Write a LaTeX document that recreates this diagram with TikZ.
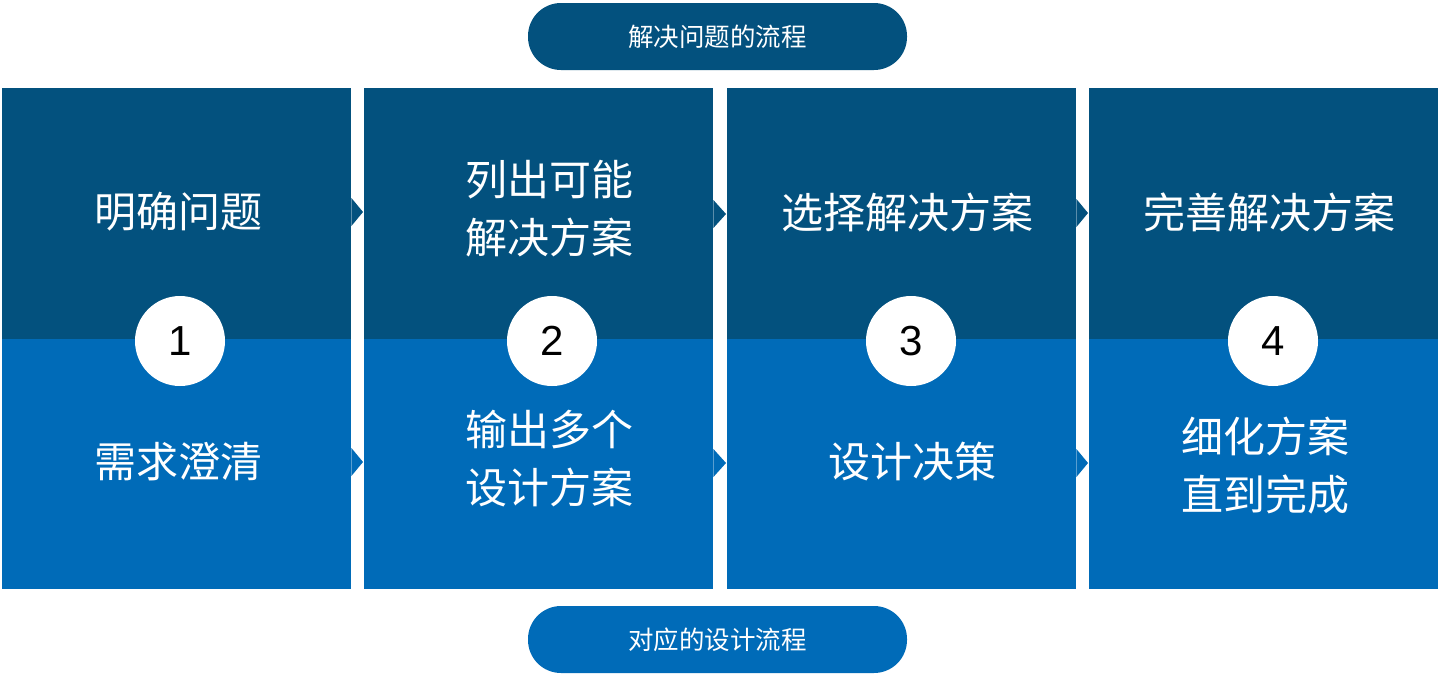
\documentclass[tikz,border=0pt]{standalone}
\usepackage{fontspec}
\setmainfont{Liberation Sans}
\newfontfamily\cjk{Noto Sans CJK SC}
\newfontfamily\numfont{Liberation Sans}
\definecolor{darkblue}{HTML}{03517E}
\definecolor{lightblue}{HTML}{006BB8}
\begin{document}
\begin{tikzpicture}[x=1pt,y=-1pt,
  topbox/.style={fill=darkblue, minimum width=349pt, minimum height=251pt, inner sep=0pt, anchor=north west},
  botbox/.style={fill=lightblue, minimum width=349pt, minimum height=250pt, inner sep=0pt, anchor=north west},
  lbl/.style={text=white, font=\cjk\fontsize{42}{58}\selectfont, align=center, inner sep=0pt},
  pill/.style={rounded corners=33pt, minimum width=379pt, minimum height=67pt, inner sep=0pt, text=white, font=\cjk\fontsize{25.5}{30}\selectfont},
  numcirc/.style={circle, fill=white, minimum size=90pt, inner sep=0pt, font=\numfont\fontsize{42}{42}\selectfont, text=black},
  tri/.style={fill=#1}]
\useasboundingbox (0,0) rectangle (1442,680);
\fill[white] (0,0) rectangle (1442,680);
% boxes
\foreach \i/\x in {1/2,2/364,3/727,4/1089}{
  \node[topbox] (t\i) at (\x,88) {};
  \node[botbox] (b\i) at (\x,339) {};
}
% arrow notches
\foreach \i/\j/\ty/\by in {1/2/212/462,2/3/214/463,3/4/213/463}{
  \fill[darkblue] (t\i.east |- 0,\ty-14) -- ([xshift=-1pt]t\j.west |- 0,\ty) -- (t\i.east |- 0,\ty+14) -- cycle;
  \fill[lightblue] (b\i.east |- 0,\by-14) -- ([xshift=-1pt]b\j.west |- 0,\by) -- (b\i.east |- 0,\by+14) -- cycle;
}
% top labels
\node[lbl] (l1) at (178,212) {明确问题};
\node[lbl] (l2) at (549,209) {列出可能\\解决方案};
\node[lbl] (l3) at (907,212) {选择解决方案};
\node[lbl] (l4) at (1269,212) {完善解决方案};
% bottom labels
\node[lbl] (m1) at (178,462) {需求澄清};
\node[lbl] (m2) at (549,459) {输出多个\\设计方案};
\node[lbl] (m3) at (912,462) {设计决策};
\node[lbl] (m4) at (1265,466) {细化方案\\直到完成};
% circles
\node[numcirc] (c1) at (180,341) {1};
\node[numcirc] (c2) at (552,341) {2};
\node[numcirc] (c3) at (911,341) {3};
\node[numcirc] (c4) at (1273,341) {4};
% pills
\node[pill, fill=darkblue] (p1) at (717.5,36.5) {解决问题的流程};
\node[pill, fill=lightblue] (p2) at (717.5,639.5) {对应的设计流程};
\end{tikzpicture}
\end{document}
